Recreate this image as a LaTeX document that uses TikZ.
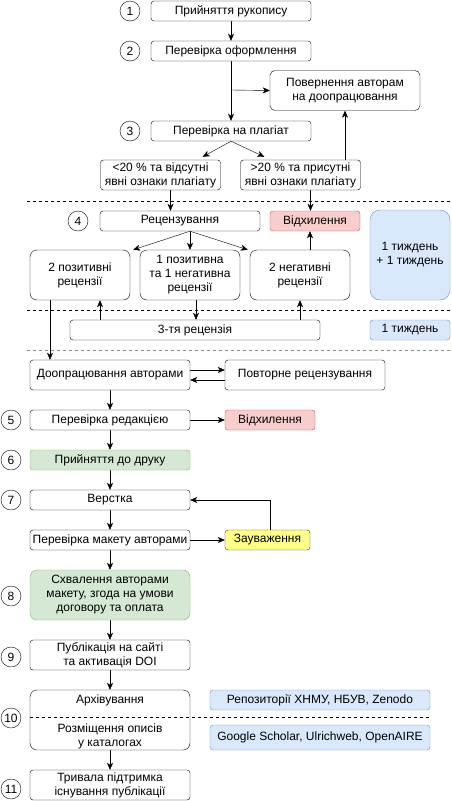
\documentclass[tikz,border=0pt]{standalone}
\usepackage{fontspec}
\setmainfont{Liberation Sans}
\usetikzlibrary{arrows.meta}
\pgfdeclarelayer{edgelayer}
\pgfdeclarelayer{nodelayer}
\pgfsetlayers{edgelayer,nodelayer,main}
\definecolor{rejfill}{HTML}{F8CECC}
\definecolor{rejline}{HTML}{B85450}
\definecolor{okfill}{HTML}{D5E8D4}
\definecolor{okline}{HTML}{82B366}
\definecolor{timefill}{HTML}{DAE8FC}
\definecolor{timeline}{HTML}{6C8EBF}
\definecolor{notefill}{HTML}{FFFF88}
\definecolor{noteline}{HTML}{36393D}
\newcommand{\txt}{\fontsize{12}{14}\selectfont}
\tikzstyle{none}=[inner sep=0pt, align=center, font=\txt]
\tikzstyle{box}=[rectangle, rounded corners=3pt, draw=black, fill=white, inner sep=0pt, minimum width=160pt, minimum height=20pt, align=center, font=\txt]
\tikzstyle{num}=[circle, draw=black, fill=white, minimum size=20pt, inner sep=0pt, font=\txt]
\tikzstyle{rejbox}=[box, draw=rejline, fill=rejfill, minimum width=90pt]
\tikzstyle{okbox}=[box, draw=okline, fill=okfill]
\tikzstyle{timebox}=[box, draw=timeline, fill=timefill]
\tikzstyle{notebox}=[box, draw=noteline, fill=notefill, minimum width=85pt]
\tikzstyle{sep}=[draw=black, dash pattern=on 3pt off 3pt]
\tikzstyle{edge}=[draw=black, -{Stealth[length=7pt, width=6pt, inset=2pt]}]

\begin{document}
\begin{tikzpicture}[x=1pt, y=-1pt, line width=1pt]
	\useasboundingbox (0,0) rectangle (452,801);
	\begin{pgfonlayer}{nodelayer}
		\node [style=num] (c1) at (130, 11) {1};
		\node [style=num] (c2) at (130, 51) {2};
		\node [style=num] (c3) at (130, 131) {3};
		\node [style=num] (c4) at (78, 221) {4};
		\node [style=num] (c5) at (11, 420) {5};
		\node [style=num] (c6) at (11, 460) {6};
		\node [style=num] (c7) at (11, 500) {7};
		\node [style=num] (c8) at (11, 596) {8};
		\node [style=num] (c9) at (11, 657) {9};
		\node [style=num] (c10) at (11, 718) {10};
		\node [style=num] (c11) at (11, 789) {11};
		\node [style=box] (recv) at (231, 11) {Прийняття рукопису};
		\node [style=box] (form) at (231, 51) {Перевірка оформлення};
		\node [style=box, minimum width=150pt, minimum height=40pt, rounded corners=5pt] (back) at (345, 90.5) {Повернення авторам\\на доопрацювання};
		\node [style=box] (plag) at (231, 131) {Перевірка на плагіат};
		\node [style=box, minimum width=120pt, minimum height=30pt] (low) at (160.5, 175) {<20 \% та відсутні\\явні ознаки плагіату};
		\node [style=box, minimum width=120pt, minimum height=30pt] (high) at (300.5, 175) {>20 \% та присутні\\явні ознаки плагіату};
		\node [style=box] (rev) at (180, 221) {Рецензування};
		\node [style=rejbox] (rej1) at (315, 221) {Відхилення};
		\node [style=timebox, minimum width=80pt, minimum height=90pt, rounded corners=10pt] (wk1) at (410, 255) {1 тиждень\\+ 1 тиждень};
		\node [style=box, minimum width=100pt, minimum height=50pt, rounded corners=7pt] (pos) at (80, 275) {2 позитивні\\рецензії};
		\node [style=box, minimum width=100pt, minimum height=50pt, rounded corners=7pt] (mix) at (190, 275) {1 позитивна\\та 1 негативна\\рецензії};
		\node [style=box, minimum width=100pt, minimum height=50pt, rounded corners=7pt] (neg) at (300, 275) {2 негативні\\рецензії};
		\node [style=box, minimum width=250pt] (third) at (195, 330) {3-тя рецензія};
		\node [style=timebox, minimum width=80pt] (wk2) at (410, 330) {1 тиждень};
		\node [style=box, minimum height=30pt] (rework) at (110, 375) {Доопрацювання авторами};
		\node [style=box, minimum height=30pt] (rerev) at (305, 375) {Повторне рецензування};
		\node [style=box] (edit) at (110, 420) {Перевірка редакцією};
		\node [style=rejbox] (rej2) at (270, 420) {Відхилення};
		\node [style=okbox] (acc) at (110, 460) {Прийняття до друку};
		\node [style=box] (layout) at (110, 500) {Верстка};
		\node [style=box] (proof) at (110, 540) {Перевірка макету авторами};
		\node [style=notebox] (note) at (267.5, 540) {Зауваження};
		\node [style=okbox, minimum height=50pt, rounded corners=7pt] (agree) at (110, 595) {Схвалення авторами\\макету, згода на умови\\договору та оплата};
		\node [style=box, minimum height=30pt] (pub) at (110, 655) {Публікація на сайті\\та активація DOI};
		\node [style=box, minimum height=60pt, rounded corners=7pt] (arch) at (110, 720) {};
		\node [style=none] (archA) at (110, 700) {Архівування};
		\node [style=none] (archB) at (110, 736) {Розміщення описів\\у каталогах};
		\node [style=timebox, minimum width=220pt] (repo) at (320, 700) {Репозиторії ХНМУ, НБУВ, Zenodo};
		\node [style=timebox, minimum width=220pt, minimum height=25pt] (cat) at (320, 737.5) {Google Scholar, Ulrichweb, OpenAIRE};
		\node [style=box, minimum height=30pt] (keep) at (110, 785) {Тривала підтримка\\існування публікації};
		\coordinate (split) at (231, 90);
	\end{pgfonlayer}
	\begin{pgfonlayer}{edgelayer}
		\draw [style=sep] (27, 201) to (452, 201);
		\draw [style=sep] (27, 310) to (452, 310);
		\draw [style=sep, draw=black!45] (27, 350) to (452, 350);
		\draw [style=edge] (recv) to (form);
		\draw [style=edge] (form) to (plag);
		\draw [style=edge] (split) to (back.west);
		\draw [style=edge] (plag.south) to ([xshift=-18pt, yshift=3pt]low.north east);
		\draw [style=edge] (plag.south) to ([xshift=24pt, yshift=3pt]high.north west);
		\draw [style=edge] (back.south |- high.north) to (back.south);
		\draw [style=edge] ([xshift=10pt]low.south) to ([xshift=10pt]low.south |- rev.north);
		\draw [style=edge] ([xshift=10pt]high.south) to ([xshift=10pt]high.south |- rej1.north);
		\draw [style=edge] (rev.south -| mix.north) to ([xshift=3pt]pos.north east);
		\draw [style=edge] (rev.south -| mix.north) to (mix.north);
		\draw [style=edge] (rev.south -| mix.north) to ([xshift=-2pt]neg.north west);
		\draw [style=edge] ([xshift=10pt]neg.north) to ([xshift=10pt]neg.north |- rej1.south);
		\draw [style=edge] ([xshift=20pt]pos.south |- third.north) to ([xshift=20pt]pos.south);
		\draw [style=edge] ([xshift=6pt]mix.south) to ([xshift=6pt]mix.south |- third.north);
		\draw [style=edge] (neg.south |- third.north) to (neg.south);
		\draw [style=edge] ([xshift=-30pt]pos.south) to ([xshift=-30pt]pos.south |- rework.north);
		\draw [style=edge] ([yshift=5pt]rework.east) to ([yshift=5pt]rerev.west);
		\draw [style=edge] ([yshift=-5pt]rerev.west) to ([yshift=-5pt]rework.east);
		\draw [style=edge] (rework) to (edit);
		\draw [style=edge] (edit) to (rej2);
		\draw [style=edge] (edit) to (acc);
		\draw [style=edge] (acc) to (layout);
		\draw [style=edge] (layout) to (proof);
		\draw [style=edge] (proof) to (note);
		\draw [style=edge] ([xshift=2.5pt]note.north) |- (layout.east);
		\draw [style=edge] (proof) to (agree);
		\draw [style=edge] (agree) to (pub);
		\draw [style=edge] (pub) to (arch);
		\draw [style=edge] (arch) to (keep);
	\end{pgfonlayer}
	\draw [style=sep] ([yshift=3pt]arch.west) to ([yshift=3pt]arch.west -| repo.east);
\end{tikzpicture}
\end{document}
